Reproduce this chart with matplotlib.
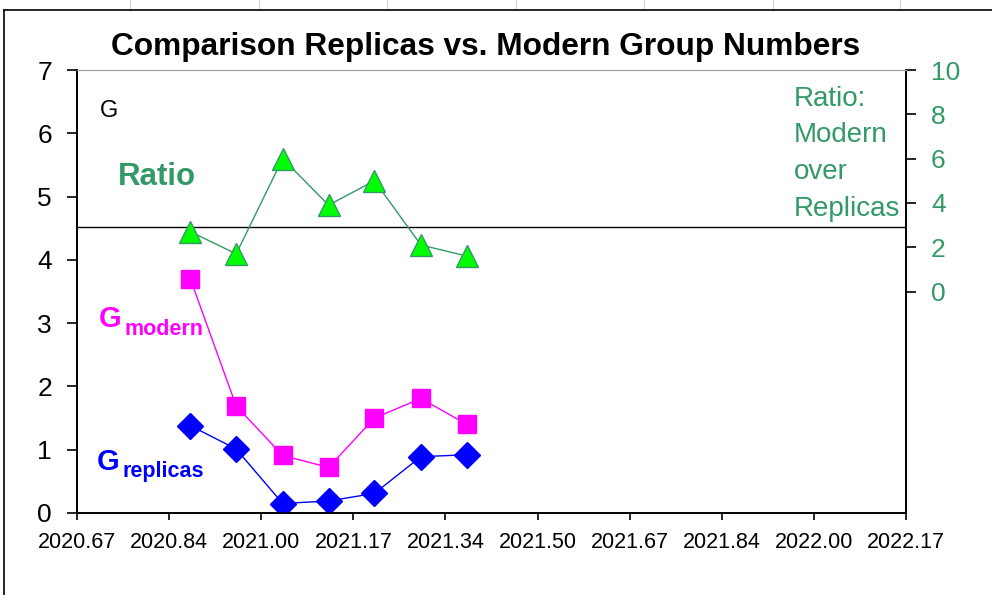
import matplotlib.pyplot as plt
from matplotlib.lines import Line2D
from matplotlib.ticker import FixedLocator, FormatStrFormatter

plt.rcParams['font.family'] = ['Liberation Sans', 'DejaVu Sans']

# monthly sample dates (decimal years)
dates = [2020.875, 2020.958, 2021.042, 2021.125, 2021.208, 2021.292, 2021.375]
g_modern = [3.70, 1.69, 0.91, 0.72, 1.50, 1.81, 1.40]
g_replicas = [1.38, 1.01, 0.15, 0.19, 0.31, 0.89, 0.92]
ratio = [2.7, 1.7, 6.0, 3.9, 5.0, 2.1, 1.6]
ref_level = 4.52

x_start = 2020.67
x_step = 0.1666
x_ticks = [x_start + i * x_step for i in range(10)]

W, H = 992, 595
GREEN = '#339966'


def fx(px):
    return px / W


def fy(py):
    return 1 - py / H


fig = plt.figure(figsize=(W / 100, H / 100), dpi=100)

# spreadsheet-ish frame around the chart
for gx in [130, 259, 387, 516, 644, 773, 900]:
    fig.add_artist(Line2D([fx(gx), fx(gx)], [fy(0), fy(10)], color='#d4d4d4', lw=0.8))
fig.add_artist(Line2D([fx(4), fx(W)], [fy(10), fy(10)], color='black', lw=1.2))
fig.add_artist(Line2D([fx(4), fx(4)], [fy(10), fy(H)], color='black', lw=1.2))

ax = fig.add_axes([fx(77), fy(513), fx(906) - fx(77), fy(70) - fy(513)])
ax2 = ax.twinx()

ax.set_xlim(x_start, x_ticks[-1])
ax.set_ylim(0, 7)
ax.xaxis.set_major_locator(FixedLocator(x_ticks))
ax.xaxis.set_major_formatter(FormatStrFormatter('%.2f'))
ax.set_yticks(range(0, 8))
ax.tick_params(axis='y', direction='out', length=7, width=1.2, pad=11, labelsize=19)
ax.tick_params(axis='x', direction='out', length=5, width=1.2, pad=9, labelsize=15.5)

ax2.set_ylim(-10, 10)
ax2.set_yticks(range(0, 11, 2))
ax2.tick_params(axis='y', direction='out', length=7, width=1.2, pad=11,
                labelsize=19, labelcolor=GREEN)

for a in (ax, ax2):
    a.spines['top'].set_color('#a0a0a0')
    for s in ('left', 'bottom', 'right'):
        a.spines[s].set_linewidth(1.2)

ax.axhline(ref_level, color='black', lw=1.0, zorder=1)

ax.plot(dates, g_modern, color='#ff00ff', lw=1.0, marker='s', markersize=13,
        markerfacecolor='#ff00ff', markeredgecolor='#ff00ff', zorder=3)
ax.plot(dates, g_replicas, color='#0000ff', lw=1.0, marker='D', markersize=13,
        markerfacecolor='#0000ff', markeredgecolor='#0000ff', zorder=3)
ax2.plot(dates, ratio, color=GREEN, lw=1.0, marker='^', markersize=16,
         markerfacecolor='#00ff00', markeredgecolor=GREEN, markeredgewidth=1.0, zorder=3)

fig.text(fx(486), fy(55), 'Comparison Replicas vs. Modern Group Numbers',
         ha='center', va='baseline', fontsize=22.8, fontweight='bold')

fig.text(fx(100), fy(117), 'G', ha='left', va='baseline', fontsize=17)
fig.text(fx(118), fy(185), 'Ratio', ha='left', va='baseline', fontsize=22.5,
         fontweight='bold', color=GREEN)

fig.text(fx(99), fy(327), 'G', ha='left', va='baseline', fontsize=21,
         fontweight='bold', color='#ff00ff')
fig.text(fx(125), fy(335), 'modern', ha='left', va='baseline', fontsize=15.5,
         fontweight='bold', color='#ff00ff')
fig.text(fx(97), fy(470), 'G', ha='left', va='baseline', fontsize=21,
         fontweight='bold', color='#0000ff')
fig.text(fx(123), fy(477), 'replicas', ha='left', va='baseline', fontsize=15.5,
         fontweight='bold', color='#0000ff')

for i, line in enumerate(['Ratio:', 'Modern', 'over', 'Replicas']):
    fig.text(fx(794), fy(106 + i * 36.5), line, ha='left', va='baseline',
             fontsize=20, color=GREEN)

fig.savefig('out.png', dpi=100)
